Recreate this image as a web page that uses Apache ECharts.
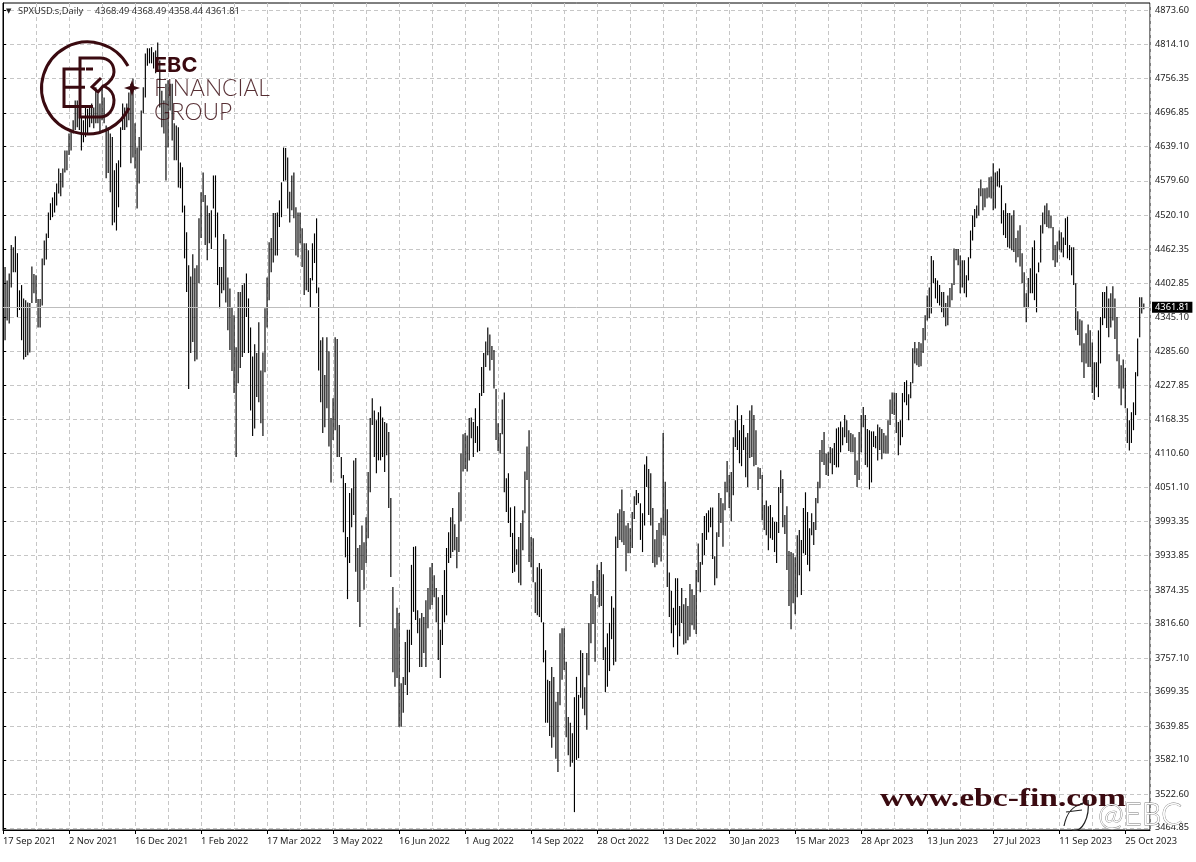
<!DOCTYPE html>
<html><head><meta charset="utf-8">
<style>html,body{margin:0;padding:0;background:#fff}#c{width:1196px;height:862px}</style>
<script src="https://cdn.jsdelivr.net/npm/echarts@6/dist/echarts.min.js"></script>
</head><body><div id="c"></div>
<script>
const dateLabels=['17 Sep 2021','2 Nov 2021','16 Dec 2021','1 Feb 2022','17 Mar 2022','3 May 2022','16 Jun 2022','1 Aug 2022','14 Sep 2022','28 Oct 2022','13 Dec 2022','30 Jan 2023','15 Mar 2023','28 Apr 2023','13 Jun 2023','27 Jul 2023','11 Sep 2023','25 Oct 2023'];
const priceTicks=[4873.60,4814.10,4756.35,4696.85,4639.10,4579.60,4520.10,4462.35,4402.85,4345.10,4285.60,4227.85,4168.35,4110.60,4051.10,3993.35,3933.85,3874.35,3816.60,3757.10,3699.35,3639.85,3582.10,3522.60,3464.85];
const lastClose=4361.81;
const highs=[
4486,4431,4408,4420,4469,4465,4484,4455,4391,4400,
4377,4374,4370,4369,4432,4419,4417,4376,4376,4446,
4477,4489,4525,4541,4551,4560,4575,4601,4593,4601,
4632,4632,4661,4667,4684,4718,4718,4710,4689,4684,
4706,4704,4710,4713,4706,4741,4730,4713,4739,4723,
4675,4672,4661,4655,4598,4610,4615,4672,4713,4706,
4713,4732,4747,4756,4679,4637,4655,4701,4741,4799,
4808,4808,4810,4801,4804,4818,4787,4735,4718,4747,
4753,4747,4747,4679,4675,4672,4611,4603,4537,4491,
4434,4415,4453,4429,4434,4515,4560,4594,4555,4537,
4524,4529,4589,4589,4525,4431,4431,4488,4479,4413,
4394,4362,4348,4293,4388,4388,4400,4403,4420,4377,
4327,4277,4298,4283,4336,4253,4284,4360,4413,4474,
4481,4524,4524,4525,4546,4577,4637,4636,4620,4561,
4589,4594,4534,4525,4525,4498,4472,4472,4460,4412,
4472,4489,4515,4396,4305,4310,4245,4310,4286,4171,
4205,4310,4307,4159,4104,4073,4059,3966,4042,4050,
4098,4102,3947,3952,3986,3957,4000,4078,4171,4205,
4184,4167,4181,4191,4172,4164,4162,4147,4033,3880,
3809,3844,3835,3714,3725,3785,3806,3806,3918,3949,
3950,3840,3826,3835,3828,3857,3878,3914,3921,3900,
3878,3862,3806,3866,3909,3947,3974,4000,4016,3988,
3966,4043,4110,4143,4145,4141,4171,4172,4164,4188,
4157,4214,4259,4283,4303,4327,4315,4295,4288,4221,
4162,4145,4203,4215,4067,4076,4017,3973,4019,3945,
3966,3990,4012,4079,4122,4150,3966,3964,3888,3914,
3921,3911,3819,3771,3720,3718,3742,3725,3682,3699,
3800,3809,3809,3751,3656,3646,3628,3690,3725,3694,
3771,3766,3707,3766,3818,3868,3890,3864,3918,3909,
3923,3902,3776,3800,3818,3864,3844,3967,4007,4014,
4048,4011,3986,3990,3981,4009,4036,4047,4042,4024,
4007,4091,4105,4083,4076,4016,3962,3978,3990,3999,
4145,4061,4014,3905,3873,3844,3895,3895,3847,3878,
3850,3861,3847,3885,3876,3866,3909,3955,3923,3973,
4002,4007,4012,4017,4017,3933,3974,4042,4033,4024,
4061,4097,4073,4078,4138,4167,4193,4150,4176,4159,
4138,4145,4184,4193,4176,4150,4086,4085,4073,4021,
4029,4019,4021,4000,3992,3992,4052,4081,4066,4004,
4019,3942,3940,3938,3931,3969,3978,3961,4016,4043,
4009,3981,4007,3992,4033,4061,4116,4133,4147,4110,
4112,4121,4119,4128,4153,4155,4165,4155,4176,4167,
4150,4145,4143,4138,4098,4147,4176,4190,4176,4152,
4150,4148,4148,4140,4160,4155,4152,4145,4141,4167,
4203,4215,4215,4214,4164,4167,4214,4233,4236,4212,
4233,4291,4302,4291,4302,4300,4326,4348,4382,4396,
4450,4443,4412,4408,4400,4388,4388,4369,4382,4395,
4403,4463,4462,4462,4451,4443,4443,4417,4448,4494,
4520,4531,4537,4567,4582,4567,4567,4568,4586,4587,
4610,4594,4596,4601,4572,4529,4541,4524,4524,4520,
4529,4481,4494,4503,4455,4422,4386,4412,4429,4465,
4477,4420,4439,4503,4525,4537,4541,4529,4520,4500,
4469,4475,4494,4491,4482,4515,4518,4469,4465,4465,
4403,4355,4341,4339,4300,4317,4332,4322,4301,4267,
4267,4322,4345,4388,4388,4398,4377,4386,4398,4377,
4345,4281,4262,4272,4257,4188,4167,4181,4198,4250,
4308,4379,4379,4368.49];
const lows=[
4417,4305,4339,4334,4396,4422,4422,4345,4357,4305,
4272,4276,4279,4284,4369,4386,4369,4327,4327,4365,
4434,4444,4481,4512,4517,4525,4537,4558,4553,4568,
4594,4598,4624,4632,4661,4667,4672,4667,4632,4646,
4655,4661,4672,4679,4670,4679,4679,4661,4684,4679,
4584,4593,4560,4503,4508,4494,4534,4603,4667,4667,
4672,4684,4610,4620,4601,4532,4575,4632,4696,4723,
4778,4782,4782,4773,4765,4787,4706,4672,4661,4580,
4637,4701,4649,4615,4615,4568,4567,4525,4446,4388,
4221,4283,4302,4269,4272,4403,4481,4543,4469,4443,
4472,4462,4532,4482,4400,4360,4386,4391,4370,4322,
4288,4252,4214,4104,4231,4257,4276,4283,4345,4283,
4184,4140,4153,4207,4198,4162,4140,4250,4327,4374,
4422,4439,4451,4451,4500,4517,4579,4580,4532,4508,
4529,4515,4451,4448,4472,4431,4383,4391,4388,4362,
4408,4438,4386,4253,4198,4145,4155,4188,4122,4060,
4133,4150,4104,4104,4067,3974,3931,3859,3921,3983,
4004,3906,3854,3811,3909,3875,3921,3964,4043,4159,
4104,4076,4098,4098,4104,4078,4107,4016,3897,3733,
3708,3723,3639,3639,3663,3711,3694,3733,3780,3837,
3823,3800,3742,3742,3766,3742,3809,3841,3849,3862,
3819,3754,3723,3780,3819,3831,3921,3930,3940,3943,
3912,3940,3993,4079,4083,4079,4098,4136,4104,4128,
4112,4114,4209,4214,4259,4279,4253,4271,4222,4133,
4114,4110,4143,4043,4009,3990,3966,3904,3906,3918,
3887,3883,3943,4007,4064,3923,3914,3888,3835,3831,
3828,3819,3750,3646,3646,3623,3603,3621,3584,3561,
3676,3720,3737,3621,3590,3570,3577,3492,3582,3585,
3689,3670,3659,3634,3728,3783,3816,3751,3866,3845,
3847,3754,3699,3708,3735,3790,3745,3751,3947,3961,
3957,3952,3907,3938,3938,3947,3997,4021,4024,3961,
3940,3986,4052,4004,3986,3921,3914,3918,3931,3924,
3969,3968,3880,3828,3800,3776,3814,3763,3795,3818,
3781,3783,3788,3794,3814,3806,3799,3888,3871,3918,
3935,3961,3974,3983,3928,3883,3895,3966,3990,3949,
4012,4043,4016,3993,4038,4121,4116,4093,4088,4116,
4069,4052,4102,4104,4088,4090,4047,4066,3995,3978,
3969,3943,3964,3961,3940,3921,3973,4042,3983,3971,
3909,3847,3807,3852,3833,3862,3900,3866,3938,3935,
3918,3907,3969,3952,3978,4024,4050,4095,4090,4073,
4071,4093,4074,4090,4086,4086,4112,4124,4138,4128,
4114,4112,4112,4073,4052,4064,4112,4155,4090,4086,
4048,4060,4121,4119,4098,4116,4100,4110,4110,4110,
4159,4178,4176,4145,4107,4124,4138,4198,4193,4167,
4205,4231,4265,4262,4259,4260,4283,4305,4339,4343,
4351,4403,4377,4369,4365,4353,4345,4329,4331,4362,
4374,4400,4443,4434,4386,4396,4386,4379,4408,4446,
4477,4500,4515,4520,4553,4529,4534,4549,4551,4549,
4529,4532,4570,4568,4506,4486,4481,4465,4463,4460,
4457,4439,4448,4432,4403,4362,4336,4360,4386,4386,
4374,4353,4422,4439,4489,4505,4500,4498,4498,4443,
4431,4439,4460,4456,4448,4469,4446,4443,4417,4400,
4322,4314,4296,4267,4240,4265,4259,4259,4214,4202,
4224,4207,4265,4331,4343,4326,4310,4327,4339,4307,
4269,4222,4193,4222,4188,4128,4115,4128,4150,4176,
4243,4310,4351,4358.44];
const header='4368.49 4368.49 4358.44 4361.81';
const MAROON='#3a0a10';
const font='"Noto Sans"';
const gridStyle={color:'#c6c6c6',type:[4,3],width:1};
const bars=highs.map((h,i)=>[i,h,lows[i]]);
const labelTicks=dateLabels.map((d,i)=>i*32);
const logoPaths=[
 {d:'M128 66 A46 46 0 1 0 129 108',fill:'none',stroke:MAROON,w:3},
 {d:'M85 69 H64 V106.5 H93 M64 87.3 H85 M86 69 H93',fill:'none',stroke:MAROON,w:3},
 {d:'M80 117 V58 H100 C110 58 114 65 114 72 C114 78 110 82 104 86 C110 89 114 93 114 100 C114 110 108 117 100 117 Z M101 78 L92 87 L98 92 L104 85',fill:'none',stroke:MAROON,w:3},
 {d:'M132 80 L134 86 L140 88 L134 90 L132 96 L130 90 L124 88 L130 86 Z',fill:MAROON,stroke:'none',w:0},
 {d:'M1064 826 C1066 816 1070 806 1083 804 M1072 830 C1082 833 1090 818 1088 800 M1066 812 L1082 810 M1080 804 L1086 802',fill:'none',stroke:'#222',w:1.2}
];

const chart=echarts.init(document.getElementById('c'),null,{renderer:'canvas'});
chart.setOption({
 animation:false,
 backgroundColor:'#fff',
 grid:{left:2,top:3,right:46,bottom:32,show:true,borderColor:'#000',borderWidth:1,backgroundColor:'#fff'},
 xAxis:[
  {type:'value',min:0,max:556,interval:32,position:'bottom',
   axisLine:{show:true,lineStyle:{color:'#000'}},
   axisTick:{show:true,length:4,inside:false,lineStyle:{color:'#000'},customValues:labelTicks},
   splitLine:{show:false},
   axisLabel:{customValues:labelTicks,align:'left',margin:7,fontFamily:font,fontSize:9.3,color:'#222',
     formatter:v=>dateLabels[Math.round(v/32)]||''}},
  {type:'value',min:0,max:556,interval:16,position:'bottom',
   axisLine:{show:false},axisTick:{show:false},axisLabel:{show:false},
   splitLine:{show:true,lineStyle:gridStyle}}
 ],
 yAxis:{type:'value',position:'right',min:3461.2,max:4886,scale:true,
   axisLine:{show:true,lineStyle:{color:'#000'}},
   axisTick:{show:true,length:3,lineStyle:{color:'#000'},customValues:priceTicks},
   splitLine:{show:true,lineStyle:gridStyle,customValues:priceTicks},
   axisLabel:{customValues:priceTicks,margin:5,fontFamily:font,fontSize:9.2,color:'#222',padding:[2,0,0,0],
     showMinLabel:true,showMaxLabel:true,formatter:v=>v.toFixed(2)}},
 series:[{
   type:'custom',xAxisIndex:0,yAxisIndex:0,clip:true,
   encode:{x:0,y:[1,2]},data:bars,
   renderItem(params,api){
     const x=api.value(0);
     const a=api.coord([x,api.value(1)]),b=api.coord([x,api.value(2)]);
     return {type:'line',shape:{x1:a[0],y1:a[1],x2:b[0],y2:b[1]},style:{stroke:'#000',lineWidth:1.15}};
   },
   markLine:{silent:true,symbol:'none',animation:false,
     lineStyle:{color:'#bdbdbd',type:'solid',width:1},
     label:{show:true,position:'end',distance:2,formatter:lastClose.toFixed(2),backgroundColor:'#000',color:'#fff',
       fontFamily:font,fontSize:9.3,padding:[1,3,1,3]},
     data:[{yAxis:lastClose}]}
 },{
   type:'custom',coordinateSystem:'none',z:20,silent:true,data:[[0]],
   renderItem(){
     return {type:'group',children:logoPaths.map(p=>({type:'path',shape:{pathData:p.d},
       style:{fill:p.fill==='none'?null:p.fill,stroke:p.stroke==='none'?null:p.stroke,lineWidth:p.w}}))};
   }
 }],
 graphic:[
  {type:'text',z:50,x:6,y:8,style:{text:'▼',font:'7px "DejaVu Sans"',fill:'#222'}},
  {type:'text',z:50,x:18,y:7,style:{text:'SPXUSD.s,Daily',font:'9.3px '+font,fill:'#333'}},
  {type:'text',z:50,x:95,y:7,style:{text:header,font:'9.3px '+font,fill:'#333'}},
  {type:'text',z:60,x:154,y:56,scaleX:1.08,style:{text:'EBC',font:'bold 20px Inter',fill:MAROON}},
  {type:'text',z:60,x:154,y:77,scaleX:0.99,style:{text:'FINANCIAL',font:'300 23px Lato',fill:MAROON,opacity:.85}},
  {type:'text',z:60,x:154,y:101,scaleX:0.99,style:{text:'GROUP',font:'300 23px Lato',fill:MAROON,opacity:.85}},
  {type:'text',z:70,x:880,y:786,scaleX:1.29,style:{text:'www.ebc-fin.com',font:'bold 26px "Liberation Serif"',fill:MAROON}},
  {type:'text',z:80,x:1098,y:799,style:{text:'@EBC',font:'300 31px Lato',fill:'#fff',stroke:'#7a7a7a',lineWidth:0.8}}
 ]
});
</script></body></html>
